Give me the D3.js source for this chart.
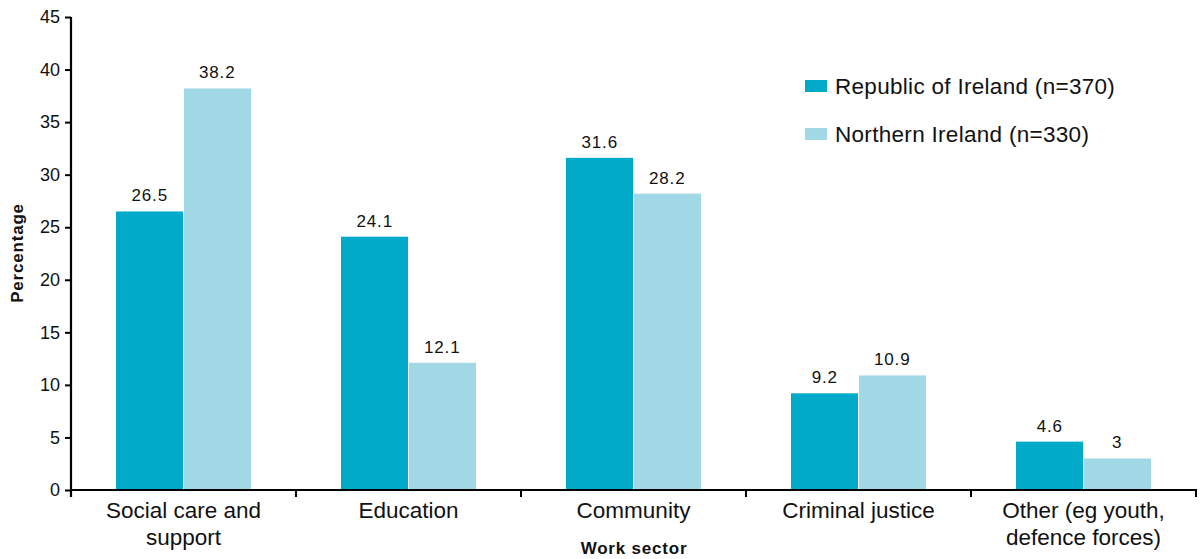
<!DOCTYPE html>
<html>
<head>
<meta charset="utf-8">
<script src="https://cdn.jsdelivr.net/npm/d3@7/dist/d3.min.js"></script>
<style>
  html, body { margin: 0; padding: 0; background: #fff; }
  svg { display: block; font-family: "Liberation Sans", Arial, Helvetica, sans-serif; }
</style>
</head>
<body>
<svg id="chart" width="1200" height="559"></svg>
<script>
// Work sector of respondents, by jurisdiction (percentages)
const categories = [
  ["Social care and", "support"],
  ["Education"],
  ["Community"],
  ["Criminal justice"],
  ["Other (eg youth,", "defence forces)"]
];
const seriesNames = ["Republic of Ireland (n=370)", "Northern Ireland (n=330)"];
const roiValues = [26.5, 24.1, 31.6, 9.2, 4.6];
const niValues = [38.2, 12.1, 28.2, 10.9, 3];
const yTicks = [0, 5, 10, 15, 20, 25, 30, 35, 40, 45];
const colors = ["#00aac8", "#a1d8e6"];

const svg = d3.select("#chart");
const plotLeft = 71, plotRight = 1196, plotTop = 17, plotBottom = 490;

const x0 = d3.scaleBand()
  .domain(d3.range(categories.length))
  .range([plotLeft, plotRight])
  .padding(0);
const step = x0.step();
const x1 = d3.scaleBand()
  .domain(d3.range(seriesNames.length))
  .range([step * 0.2, step * 0.8])
  .padding(0);
const y = d3.scaleLinear().domain([0, 45]).range([plotBottom, plotTop]);

const series = [roiValues, niValues];

// Bars
const groups = svg.append("g").selectAll("g")
  .data(categories.map((c, i) => i))
  .join("g")
  .attr("transform", i => `translate(${x0(i)},0)`);

groups.selectAll("rect")
  .data(i => series.map((vals, s) => ({ s, v: vals[i] })))
  .join("rect")
  .attr("x", d => x1(d.s) + (d.s === 0 ? 0 : 0.5))
  .attr("width", d => x1.bandwidth() - 0.5)
  .attr("y", d => y(d.v))
  .attr("height", d => y(0) - y(d.v))
  .attr("fill", d => colors[d.s]);

// Value labels
groups.selectAll("text.val")
  .data(i => series.map((vals, s) => ({ s, v: vals[i] })))
  .join("text")
  .attr("class", "val")
  .attr("x", d => x1(d.s) + x1.bandwidth() / 2)
  .attr("y", d => y(d.v) - 10)
  .attr("text-anchor", "middle")
  .attr("font-size", 17)
  .attr("letter-spacing", 0.8)
  .attr("fill", "#111")
  .text(d => d.v);

// Y axis
const yAxis = d3.axisLeft(y).tickValues(yTicks).tickSize(6).tickPadding(5).tickSizeOuter(0);
const gy = svg.append("g").attr("transform", `translate(${plotLeft},0)`).call(yAxis);
gy.select(".domain").attr("stroke", "#000").attr("stroke-width", 2.2)
  .attr("d", `M0,${plotTop}V${plotBottom + 7}`);
gy.selectAll(".tick line").attr("stroke", "#000").attr("stroke-width", 2);
gy.selectAll(".tick text").attr("font-size", 18).attr("fill", "#111")
  .attr("font-family", "'Liberation Sans', Arial, sans-serif");

// X axis with ticks at band boundaries
const gx = svg.append("g");
gx.append("line")
  .attr("x1", plotLeft - 1).attr("x2", plotRight + 1)
  .attr("y1", plotBottom).attr("y2", plotBottom)
  .attr("stroke", "#000").attr("stroke-width", 2.2);
const bounds = d3.range(categories.length + 1).map(i => plotLeft + i * step);
gx.selectAll("line.tk")
  .data(bounds)
  .join("line")
  .attr("class", "tk")
  .attr("x1", d => d).attr("x2", d => d)
  .attr("y1", plotBottom).attr("y2", plotBottom + 7)
  .attr("stroke", "#000").attr("stroke-width", 2);

// Category labels
const catLabels = svg.append("g").selectAll("text")
  .data(categories.map((c, i) => ({ c, i })))
  .join("text")
  .attr("x", d => x0(d.i) + step / 2)
  .attr("y", 518)
  .attr("text-anchor", "middle")
  .attr("font-size", 22.5)
  .attr("fill", "#111");
catLabels.selectAll("tspan")
  .data(d => d.c.map((line, k) => ({ line, k, x: x0(d.i) + step / 2 })))
  .join("tspan")
  .attr("x", d => d.x)
  .attr("dy", d => d.k === 0 ? 0 : 27)
  .text(d => d.line);

// Axis titles
svg.append("text")
  .attr("x", 634).attr("y", 554)
  .attr("text-anchor", "middle")
  .attr("font-size", 17).attr("font-weight", "bold").attr("fill", "#111")
  .attr("letter-spacing", 0.8)
  .text("Work sector");
svg.append("text")
  .attr("transform", "translate(23,253) rotate(-90)")
  .attr("text-anchor", "middle")
  .attr("font-size", 17).attr("font-weight", "bold").attr("fill", "#111")
  .attr("letter-spacing", 0.8)
  .text("Percentage");

// Legend
const legend = svg.append("g").selectAll("g")
  .data(seriesNames.map((n, i) => ({ n, i })))
  .join("g")
  .attr("transform", d => `translate(805,${80 + d.i * 48})`);
legend.append("rect")
  .attr("width", 22).attr("height", 12)
  .attr("fill", d => colors[d.i]);
legend.append("text")
  .attr("x", 30).attr("y", 14)
  .attr("font-size", 22.5).attr("fill", "#111")
  .attr("letter-spacing", 0.3)
  .text(d => d.n);
</script>
</body>
</html>
